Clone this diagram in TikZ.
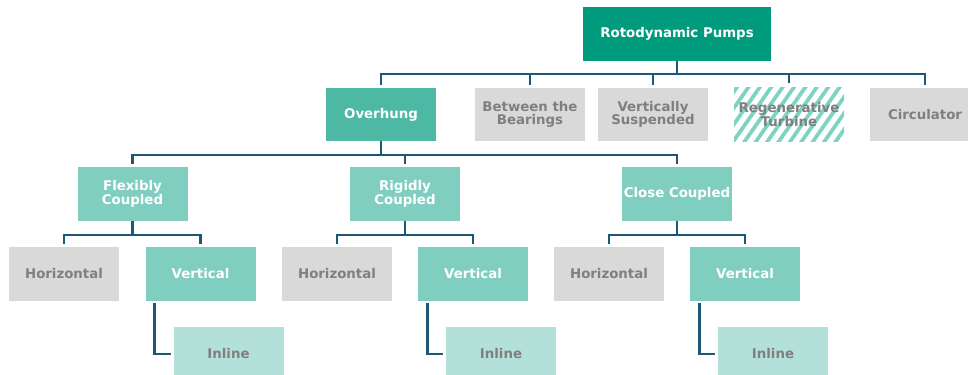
\documentclass[tikz,border=0pt]{standalone}
\usepackage{fontspec}
\setmainfont{DejaVu Sans}
\usetikzlibrary{patterns.meta}
\definecolor{rootc}{HTML}{009B7D}
\definecolor{ovc}{HTML}{4DB9A4}
\definecolor{midc}{HTML}{80CEC0}
\definecolor{inlc}{HTML}{B3E1DA}
\definecolor{grayc}{HTML}{D9D9D9}
\definecolor{txtg}{HTML}{7F7F7F}
\definecolor{linec}{HTML}{1C5874}
\definecolor{hatchc}{HTML}{7DD3C1}
\tikzset{
  lbl/.style={font=\fontsize{10}{10.2}\selectfont\bfseries},
  box/.style={rectangle, inner sep=0pt, align=center, lbl, minimum width=82.5pt, minimum height=40pt},
  rootbox/.style={box, fill=rootc, text=white, minimum width=141pt},
  ovbox/.style={box, fill=ovc, text=white},
  midbox/.style={box, fill=midc, text=white},
  graybox/.style={box, fill=grayc, text=txtg},
  inlbox/.style={box, fill=inlc, text=txtg},
  hatchbox/.style={box, fill=white, pattern={Lines[angle=55,distance=7pt,line width=2.8pt]}, pattern color=hatchc, text=txtg},
  conn/.style={draw=linec, line width=2.2pt},
}
\begin{document}
\begin{tikzpicture}[x=0.75pt,y=-0.75pt]
\clip (0,0) rectangle (968,375);
\useasboundingbox (0,0) rectangle (968,375);
% root
\node[rootbox] (root) at (677,34) {Rotodynamic Pumps};
% level 2
\node[ovbox] (ov) at (381,114.5) {Overhung};
\node[graybox] (bt) at (530,114.5) {Between the\\Bearings};
\node[graybox] (vs) at (653,114.5) {Vertically\\Suspended};
\node[hatchbox] (rt) at (789,114.5) {};
\node[text=txtg, align=center, lbl] (rtl) at (rt.center) {Regenerative\\Turbine};
\node[graybox] (ci) at (925,114.5) {Circulator};
% level 3
\node[midbox] (fc) at (132.5,194) {Flexibly\\Coupled};
\node[midbox] (rc) at (405,194) {Rigidly\\Coupled};
\node[midbox] (cc) at (677,194) {Close Coupled};
% level 4
\node[graybox] (fh) at (64,274) {Horizontal};
\node[midbox] (fv) at (200.5,274) {Vertical};
\node[graybox] (rh) at (337,274) {Horizontal};
\node[midbox] (rv) at (473,274) {Vertical};
\node[graybox] (ch) at (609,274) {Horizontal};
\node[midbox] (cv) at (745,274) {Vertical};
% inline
\node[inlbox] (fi) at (228.5,354) {Inline};
\node[inlbox] (ri) at (501,354) {Inline};
\node[inlbox] (cin) at (773,354) {Inline};
% connectors
\coordinate (b1) at (677,74);
\draw[conn] (root.south) -- (b1);
\foreach \c in {ov,bt,vs,rt,ci}{\draw[conn, shorten >=2pt] (b1) -| (\c.north);}
\coordinate (b2) at (381,155);
\draw[conn] (ov.south) -- (b2);
\foreach \c in {fc,rc,cc}{\draw[conn, shorten >=2pt] (b2) -| (\c.north);}
\coordinate (b3) at (132.5,235);
\draw[conn] (fc.south) -- (b3);
\foreach \c in {fh,fv}{\draw[conn, shorten >=2pt] (b3) -| (\c.north);}
\coordinate (b4) at (405,235);
\draw[conn] (rc.south) -- (b4);
\foreach \c in {rh,rv}{\draw[conn, shorten >=2pt] (b4) -| (\c.north);}
\coordinate (b5) at (677,235);
\draw[conn] (cc.south) -- (b5);
\foreach \c in {ch,cv}{\draw[conn, shorten >=2pt] (b5) -| (\c.north);}
\draw[conn, shorten <=1.5pt, shorten >=2pt] ([xshift=7pt]fv.south west) |- (fi.west);
\draw[conn, shorten <=1.5pt, shorten >=2pt] ([xshift=7pt]rv.south west) |- (ri.west);
\draw[conn, shorten <=1.5pt, shorten >=2pt] ([xshift=7pt]cv.south west) |- (cin.west);
\end{tikzpicture}
\end{document}
